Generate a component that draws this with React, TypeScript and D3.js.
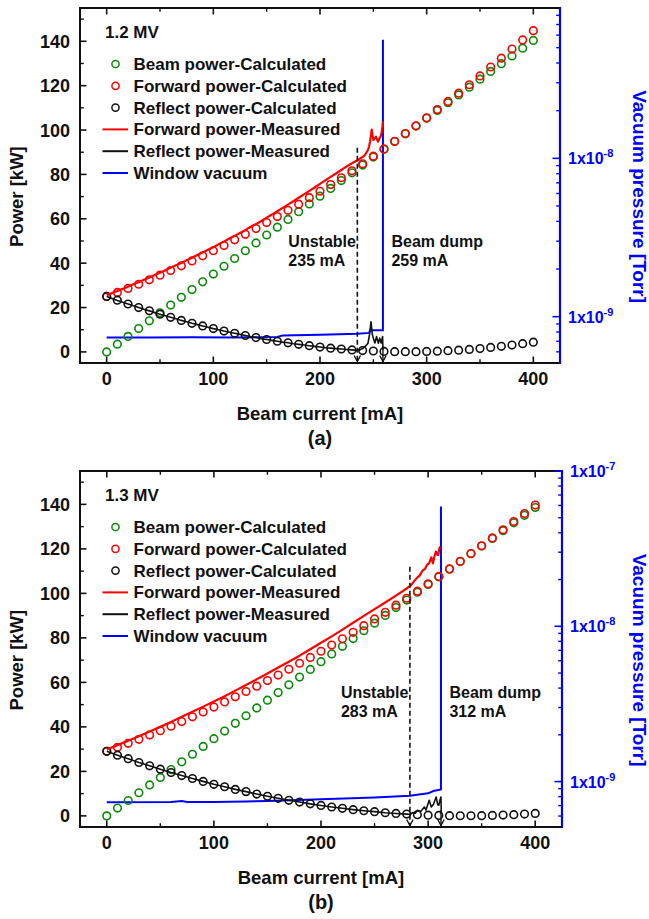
import React from "react";
import * as d3 from "d3";

const FONT = "Arial, 'Liberation Sans', Helvetica, sans-serif";
const BLUE = "#0000ff";
const RED = "#ff0000";
const GREEN = "#0a8a0a";
const BLACK = "#111111";

// Beam current grid of the calculated points (mA)
const currentsMA = [
  0, 10, 20, 30, 40, 50, 60, 70, 80, 90, 100, 110, 120, 130, 140, 150, 160, 170, 180, 190, 200,
  210, 220, 230, 240, 250, 260, 270, 280, 290, 300, 310, 320, 330, 340, 350, 360, 370, 380, 390, 400,
];

const xMajorTicks = [0, 100, 200, 300, 400];
const xMinorTicks = [50, 150, 250, 350];
const powerMajorTicks = [0, 20, 40, 60, 80, 100, 120, 140];
const powerMinorTicks = [10, 30, 50, 70, 90, 110, 130, 150];
const vacMinorMultipliers = [2, 3, 4, 5, 6, 7, 8, 9];

// ---- 1.2 MV ----
const beamPowerA = [
  0, 3.5, 7.0, 10.5, 14.0, 17.6, 21.1, 24.6, 28.1, 31.6, 35.1, 38.6, 42.1, 45.6, 49.1, 52.7, 56.2,
  59.7, 63.2, 66.7, 70.2, 73.7, 77.2, 80.7, 84.2, 87.8, 91.3, 94.8, 98.3, 101.8, 105.3, 108.8, 112.3,
  115.8, 119.3, 122.9, 126.4, 129.9, 133.4, 136.9, 140.4,
];
const forwardPowerA = [
  25.0, 26.8, 28.6, 30.5, 32.5, 34.6, 36.7, 38.8, 41.0, 43.3, 45.6, 48.0, 50.5, 53.0, 55.6, 58.3,
  61.0, 63.8, 66.6, 69.5, 72.4, 75.4, 78.5, 81.6, 84.8, 88.2, 91.5, 94.9, 98.4, 101.9, 105.5, 109.2,
  112.9, 116.6, 120.4, 124.4, 128.4, 132.4, 136.5, 140.6, 144.8,
];
const reflectPowerA = [
  25.0, 23.3, 21.6, 20.0, 18.5, 17.0, 15.6, 14.2, 12.9, 11.7, 10.5, 9.4, 8.4, 7.4, 6.5, 5.6, 4.8,
  4.1, 3.4, 2.8, 2.2, 1.7, 1.3, 0.9, 0.6, 0.4, 0.2, 0.1, 0.1, 0.1, 0.2, 0.35, 0.55, 0.8, 1.1, 1.5,
  2.0, 2.5, 3.1, 3.7, 4.4,
];
const forwardMeasuredA: [number, number][] = [
  [0, 25.6], [5, 26.5], [10, 27.5], [15, 28.4], [20, 29.4], [25, 30.5], [30, 31.4], [35, 32.5],
  [40, 33.5], [45, 34.7], [50, 35.7], [55, 36.8], [60, 37.9], [65, 39.1], [70, 40.1], [75, 41.3],
  [80, 42.4], [85, 43.7], [90, 44.8], [95, 46.0], [100, 47.2], [105, 48.5], [110, 49.7], [115, 51.1],
  [120, 52.3], [125, 53.6], [130, 54.9], [135, 56.4], [140, 57.6], [145, 59.0], [150, 60.5],
  [155, 61.9], [160, 63.4], [165, 64.9], [170, 66.4], [175, 67.9], [180, 69.5], [185, 71.0],
  [190, 72.6], [195, 74.1], [200, 75.7], [205, 77.3], [210, 78.9], [215, 80.4], [220, 82.0],
  [225, 83.6], [230, 85.0], [235, 86.4], [238, 87.3], [240, 87.9], [242, 88.6], [243, 89.5],
  [245, 91.0], [246, 92.6], [247, 95.0], [248.5, 100.2], [249, 98.4], [250, 95.5], [251, 96.2],
  [252.5, 97.0], [253.5, 95.6], [254.5, 94.8], [256, 96.5], [257, 97.2], [257.8, 99.0],
  [258.5, 101.5], [259, 103.8],
];
const reflectMeasuredA: [number, number][] = [
  [0, 25.0], [5, 24.1], [10, 23.2], [15, 22.4], [20, 21.6], [25, 20.8], [30, 20.0], [35, 19.2],
  [40, 18.5], [45, 17.7], [50, 17.0], [55, 16.3], [60, 15.6], [65, 14.9], [70, 14.2], [75, 13.6],
  [80, 12.9], [85, 12.3], [90, 11.7], [95, 11.1], [100, 10.5], [105, 10.0], [110, 9.4], [115, 8.9],
  [120, 8.4], [125, 7.9], [130, 7.4], [135, 6.9], [140, 6.5], [145, 6.0], [150, 5.6], [155, 5.2],
  [160, 4.8], [165, 4.4], [170, 4.1], [175, 3.7], [180, 3.4], [185, 3.1], [190, 2.8], [195, 2.5],
  [200, 2.2], [205, 1.9], [210, 1.7], [215, 1.5], [220, 1.3], [225, 1.1], [230, 0.9], [235, 0.7],
  [237.5, 0.9], [240, 1.5], [243, 2.8], [245, 3.9], [246.5, 8.0], [247.8, 13.6], [249, 8.0],
  [250, 6.2], [251.5, 4.0], [253, 6.9], [254.7, 3.9], [256, 6.2], [257.3, 4.0], [258.7, 6.9],
  [259, 1.0],
];
const vacuumA: [number, number][] = [
  [0, 7.4e-10], [40, 7.38e-10], [80, 7.42e-10], [120, 7.4e-10], [160, 7.45e-10], [165, 7.62e-10],
  [200, 7.7e-10], [235, 7.8e-10], [246, 7.9e-10], [247, 8.2e-10], [259, 8.2e-10], [259, 5.6e-8],
];

// ---- 1.3 MV ----
const beamPowerB = [
  0, 3.5, 6.9, 10.4, 13.9, 17.3, 20.8, 24.3, 27.7, 31.2, 34.7, 38.1, 41.6, 45.0, 48.5, 52.0, 55.4,
  58.9, 62.4, 65.8, 69.3, 72.8, 76.2, 79.7, 83.2, 86.6, 90.1, 93.6, 97.0, 100.5, 104.0, 107.4, 110.9,
  114.3, 117.8, 121.3, 124.7, 128.2, 131.7, 135.1, 138.6,
];
const forwardPowerB = [
  29.0, 30.8, 32.6, 34.4, 36.4, 38.3, 40.3, 42.4, 44.5, 46.7, 48.9, 51.2, 53.5, 55.9, 58.3, 60.8,
  63.3, 65.9, 68.6, 71.2, 74.0, 76.8, 79.6, 82.5, 85.5, 88.5, 91.5, 94.7, 97.8, 101.0, 104.3, 107.6,
  111.0, 114.4, 117.9, 121.4, 124.9, 128.6, 132.3, 135.9, 139.7,
];
const reflectPowerB = [
  29.0, 27.3, 25.7, 24.0, 22.5, 21.0, 19.5, 18.1, 16.8, 15.5, 14.2, 13.1, 11.9, 10.9, 9.8, 8.8, 7.9,
  7.0, 6.2, 5.4, 4.7, 4.0, 3.4, 2.8, 2.3, 1.9, 1.4, 1.1, 0.8, 0.5, 0.3, 0.2, 0.1, 0.05, 0.05, 0.1,
  0.2, 0.35, 0.55, 0.8, 1.1,
];
const forwardMeasuredB: [number, number][] = [
  [0, 29.8], [10, 31.8], [20, 33.8], [30, 35.8], [40, 37.9], [50, 40.0], [60, 42.2], [70, 44.5],
  [80, 46.8], [90, 49.1], [100, 51.4], [110, 53.8], [120, 56.3], [130, 58.8], [140, 61.4],
  [150, 64.0], [160, 66.7], [170, 69.3], [180, 72.0], [190, 74.9], [200, 77.8], [210, 80.7],
  [220, 83.7], [230, 86.8], [240, 89.9], [250, 92.9], [260, 95.9], [270, 99.0], [280, 102.2],
  [284, 103.6], [287, 105.5], [290, 107.2], [292, 108.0], [295, 110.3], [297, 111.0], [299, 112.8],
  [301, 113.6], [303, 116.2], [304.5, 113.5], [306, 116.8], [307.3, 118.8], [308.5, 117.4],
  [309.5, 117.2], [310.5, 120.2], [311.5, 121.0],
];
const reflectMeasuredB: [number, number][] = [
  [0, 29.0], [10, 27.3], [20, 25.7], [30, 24.0], [40, 22.5], [50, 21.0], [60, 19.5], [70, 18.1],
  [80, 16.8], [90, 15.5], [100, 14.2], [110, 13.1], [120, 11.9], [130, 10.9], [140, 9.8],
  [150, 8.8], [160, 7.9], [170, 7.0], [180, 6.2], [190, 5.4], [200, 4.7], [210, 4.0], [220, 3.4],
  [230, 2.8], [240, 2.3], [250, 1.9], [260, 1.4], [270, 1.1], [280, 0.8], [283, 0.7], [286, 1.5],
  [288, 1.2], [290, 2.5], [293, 2.0], [296.5, 4.0], [298, 2.6], [301, 7.0], [303, 4.0], [305, 5.2],
  [307.5, 8.5], [309, 5.0], [310, 4.8], [311, 7.0], [312, 8.5], [312.3, 1.0],
];
const vacuumB: [number, number][] = [
  [0, 7.37e-10], [60, 7.4e-10], [70, 7.5e-10], [75, 7.4e-10], [100, 7.4e-10], [130, 7.45e-10],
  [150, 7.5e-10], [200, 7.7e-10], [250, 7.9e-10], [283, 8.1e-10], [300, 8.4e-10], [305, 8.7e-10],
  [312, 8.9e-10], [312, 5.9e-8],
];

const legendEntries = [
  { label: "Beam power-Calculated", kind: "circle", color: GREEN },
  { label: "Forward power-Calculated", kind: "circle", color: RED },
  { label: "Reflect power-Calculated", kind: "circle", color: BLACK },
  { label: "Forward power-Measured", kind: "line", color: RED },
  { label: "Reflect power-Measured", kind: "line", color: BLACK },
  { label: "Window vacuum", kind: "line", color: BLUE },
];

type PanelSpec = {
  id: string;
  tag: string;
  voltage: string;
  left: number;
  right: number;
  top: number;
  bottom: number;
  vacDomain: [number, number];
  vacDecades: number[];
  beam: number[];
  forward: number[];
  reflect: number[];
  forwardMeasured: [number, number][];
  reflectMeasured: [number, number][];
  vacuum: [number, number][];
  unstable: number;
  dump: number;
  unstableTopKW: number;
  noteKW: number;
};

const panels: PanelSpec[] = [
  {
    id: "a", tag: "(a)", voltage: "1.2 MV",
    left: 80, right: 560, top: 8, bottom: 363,
    vacDomain: [5.1e-10, 8.9e-8], vacDecades: [-9, -8],
    beam: beamPowerA, forward: forwardPowerA, reflect: reflectPowerA,
    forwardMeasured: forwardMeasuredA, reflectMeasured: reflectMeasuredA, vacuum: vacuumA,
    unstable: 235, dump: 259, unstableTopKW: 92, noteKW: 47.5,
  },
  {
    id: "b", tag: "(b)", voltage: "1.3 MV",
    left: 80, right: 562, top: 471, bottom: 827,
    vacDomain: [5.1e-10, 1e-7], vacDecades: [-9, -8, -7],
    beam: beamPowerB, forward: forwardPowerB, reflect: reflectPowerB,
    forwardMeasured: forwardMeasuredB, reflectMeasured: reflectMeasuredB, vacuum: vacuumB,
    unstable: 283, dump: 312, unstableTopKW: 112, noteKW: 53,
  },
];

function arrowHead(x: number, y: number) {
  return `M${x - 3.2},${y - 6} L${x},${y} L${x + 3.2},${y - 6}`;
}

function Panel({ p }: { p: PanelSpec }) {
  const x = d3.scaleLinear().domain([-25, 425]).range([p.left, p.right]);
  const y = d3.scaleLinear().domain([-5, 155]).range([p.bottom, p.top]);
  const v = d3.scaleLog().domain(p.vacDomain).range([p.bottom, p.top]);

  const powerLine = d3
    .line<[number, number]>()
    .x((d) => x(d[0]))
    .y((d) => y(d[1]));
  const vacLine = d3
    .line<[number, number]>()
    .x((d) => x(d[0]))
    .y((d) => v(d[1]));

  const vacMinor: number[] = [];
  for (let e = -10; e <= -7; e++) {
    vacMinorMultipliers.forEach((m) => {
      const val = m * Math.pow(10, e);
      if (val >= p.vacDomain[0] && val <= p.vacDomain[1]) vacMinor.push(val);
    });
  }

  const clipId = `clip-${p.id}`;
  const tickFont = 18;
  const major = 6.5;
  const minor = 3.8;

  const circleSeries = [
    { values: p.beam, color: GREEN },
    { values: p.forward, color: RED },
    { values: p.reflect, color: BLACK },
  ];

  const legendX = p.left + 25;
  const legendRow0 = p.top + 56;
  const rowGap = 21.8;

  const xUnstable = x(p.unstable);
  const xDump = x(p.dump);
  const noteY = y(p.noteKW);

  return (
    <g>
      <defs>
        <clipPath id={clipId}>
          <rect x={p.left} y={p.top} width={p.right - p.left} height={p.bottom - p.top} />
        </clipPath>
      </defs>

      {/* data */}
      <g clipPath={`url(#${clipId})`}>
        <path d={vacLine(p.vacuum) ?? ""} fill="none" stroke={BLUE} strokeWidth={2} />
        {circleSeries.map((s, si) => (
          <g key={si}>
            {s.values.map((val, i) => (
              <circle
                key={i}
                cx={x(currentsMA[i])}
                cy={y(val)}
                r={3.8}
                fill="none"
                stroke={s.color}
                strokeWidth={1.6}
              />
            ))}
          </g>
        ))}
        <path d={powerLine(p.forwardMeasured) ?? ""} fill="none" stroke={RED} strokeWidth={2.2} strokeLinejoin="round" />
        <path d={powerLine(p.reflectMeasured) ?? ""} fill="none" stroke={BLACK} strokeWidth={1.6} strokeLinejoin="round" />
      </g>

      {/* unstable and beam-dump markers */}
      <line
        x1={xUnstable}
        x2={xUnstable}
        y1={y(p.unstableTopKW)}
        y2={p.bottom - 1}
        stroke={BLACK}
        strokeWidth={1.6}
        strokeDasharray="5,3"
      />
      <path d={arrowHead(xUnstable, p.bottom - 1.5)} fill="none" stroke={BLACK} strokeWidth={1.4} />
      <line x1={xDump} x2={xDump} y1={y(2.5)} y2={p.bottom - 1} stroke={BLACK} strokeWidth={1.4} />
      <path d={arrowHead(xDump, p.bottom - 1.5)} fill="none" stroke={BLACK} strokeWidth={1.4} />

      <g fontFamily={FONT} fontWeight="bold" fontSize={16} fill={BLACK}>
        <text x={xUnstable - 69} y={noteY}>Unstable</text>
        <text x={xUnstable - 69} y={noteY + 19.5}>{`${p.unstable} mA`}</text>
        <text x={xDump + 8.5} y={noteY}>Beam dump</text>
        <text x={xDump + 8.5} y={noteY + 19.5}>{`${p.dump} mA`}</text>
      </g>

      {/* frame */}
      <line x1={p.left} x2={p.right} y1={p.top} y2={p.top} stroke={BLACK} strokeWidth={2} />
      <line x1={p.left} x2={p.right} y1={p.bottom} y2={p.bottom} stroke={BLACK} strokeWidth={2} />
      <line x1={p.left} x2={p.left} y1={p.top - 1} y2={p.bottom + 1} stroke={BLACK} strokeWidth={2} />
      <line x1={p.right} x2={p.right} y1={p.top - 1} y2={p.bottom + 1} stroke={BLUE} strokeWidth={2.2} />

      {/* x ticks (bottom and top, inward) */}
      {xMajorTicks.map((t) => (
        <g key={`xm${t}`}>
          <line x1={x(t)} x2={x(t)} y1={p.bottom} y2={p.bottom - major} stroke={BLACK} strokeWidth={1.6} />
          <line x1={x(t)} x2={x(t)} y1={p.top} y2={p.top + major} stroke={BLACK} strokeWidth={1.6} />
          <text
            x={x(t)}
            y={p.bottom + 22}
            textAnchor="middle"
            fontFamily={FONT}
            fontWeight="bold"
            fontSize={tickFont}
            fill={BLACK}
          >
            {t}
          </text>
        </g>
      ))}
      {xMinorTicks.map((t) => (
        <g key={`xn${t}`}>
          <line x1={x(t)} x2={x(t)} y1={p.bottom} y2={p.bottom - minor} stroke={BLACK} strokeWidth={1.4} />
          <line x1={x(t)} x2={x(t)} y1={p.top} y2={p.top + minor} stroke={BLACK} strokeWidth={1.4} />
        </g>
      ))}

      {/* left power axis */}
      {powerMajorTicks.map((t) => (
        <g key={`ym${t}`}>
          <line x1={p.left} x2={p.left + major} y1={y(t)} y2={y(t)} stroke={BLACK} strokeWidth={1.6} />
          <text
            x={p.left - 10}
            y={y(t) + 6.5}
            textAnchor="end"
            fontFamily={FONT}
            fontWeight="bold"
            fontSize={tickFont}
            fill={BLACK}
          >
            {t}
          </text>
        </g>
      ))}
      {powerMinorTicks.map((t) => (
        <line key={`yn${t}`} x1={p.left} x2={p.left + minor} y1={y(t)} y2={y(t)} stroke={BLACK} strokeWidth={1.4} />
      ))}

      {/* right vacuum axis (log) */}
      {p.vacDecades.map((e) => {
        const val = Math.pow(10, e);
        return (
          <g key={`vm${e}`}>
            <line x1={p.right} x2={p.right - major - 1} y1={v(val)} y2={v(val)} stroke={BLUE} strokeWidth={1.6} />
            <text
              x={p.right + 8}
              y={v(val) + 6}
              fontFamily={FONT}
              fontWeight="bold"
              fontSize={16}
              fill={BLUE}
            >
              1x10
              <tspan dy={-7} fontSize={11}>{`${e}`}</tspan>
            </text>
          </g>
        );
      })}
      {vacMinor.map((val, i) => (
        <line key={`vn${i}`} x1={p.right} x2={p.right - minor} y1={v(val)} y2={v(val)} stroke={BLUE} strokeWidth={1.4} />
      ))}

      {/* axis titles */}
      <text
        x={x(200)}
        y={p.bottom + 57}
        textAnchor="middle"
        fontFamily={FONT}
        fontWeight="bold"
        fontSize={18.5}
        fill={BLACK}
      >
        Beam current [mA]
      </text>
      <text
        x={x(200)}
        y={p.bottom + 82}
        textAnchor="middle"
        fontFamily={FONT}
        fontWeight="bold"
        fontSize={20}
        fill={BLACK}
      >
        {p.tag}
      </text>
      <text
        transform={`translate(23, ${y(70)}) rotate(-90)`}
        textAnchor="middle"
        fontFamily={FONT}
        fontWeight="bold"
        fontSize={18.5}
        fill={BLACK}
      >
        Power [kW]
      </text>
      <text
        transform={`translate(633, ${y(70)}) rotate(90)`}
        textAnchor="middle"
        fontFamily={FONT}
        fontWeight="bold"
        fontSize={19}
        fill={BLUE}
      >
        Vacuum pressure [Torr]
      </text>

      {/* legend */}
      <text x={legendX} y={p.top + 30} fontFamily={FONT} fontWeight="bold" fontSize={17} fill={BLACK}>
        {p.voltage}
      </text>
      {legendEntries.map((entry, i) => {
        const cy = legendRow0 + i * rowGap;
        return (
          <g key={entry.label}>
            {entry.kind === "circle" ? (
              <circle cx={legendX + 10.5} cy={cy} r={3.6} fill="none" stroke={entry.color} strokeWidth={1.5} />
            ) : (
              <line x1={legendX - 2.5} x2={legendX + 23} y1={cy} y2={cy} stroke={entry.color} strokeWidth={2} />
            )}
            <text x={legendX + 28.5} y={cy + 6} fontFamily={FONT} fontWeight="bold" fontSize={17} fill={BLACK}>
              {entry.label}
            </text>
          </g>
        );
      })}
    </g>
  );
}

export default function App() {
  return (
    <svg
      width={649}
      height={919}
      viewBox="0 0 649 919"
      style={{ position: "absolute", left: 0, top: 0, background: "#ffffff" }}
    >
      <rect x={0} y={0} width={649} height={919} fill="#ffffff" />
      {panels.map((p) => (
        <Panel key={p.id} p={p} />
      ))}
    </svg>
  );
}
